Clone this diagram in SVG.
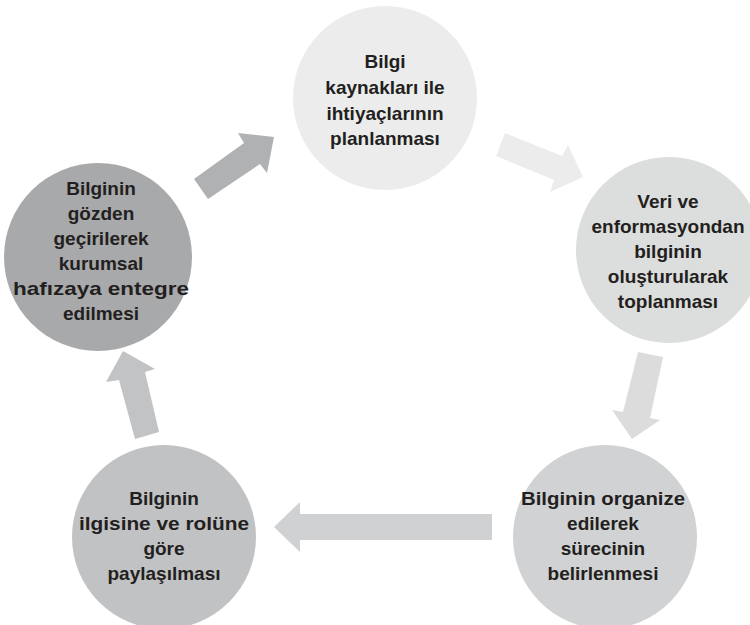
<svg xmlns="http://www.w3.org/2000/svg" width="750" height="625" viewBox="0 0 750 625">
<style>
text{font-family:"Liberation Sans",Arial,sans-serif;font-weight:bold;font-size:19px;fill:#231f20;text-anchor:middle}
</style>
<rect width="750" height="625" fill="#ffffff"/>
<g id="connectors">
<polygon id="a1" fill="#b0b1b3" points="194,179 244,143 238,133 274,137 267,173 260,164 208,199"/>
<polygon id="a2" fill="#ececec" points="505,133 562,156 568,145 583,177 550,192 554,180 496,156"/>
<polygon id="a3" fill="#dcdcdd" points="638,352 663,357 650,418 660,420 632,439 612,410 623,412"/>
<polygon id="a4" fill="#d0d1d3" points="492,514 300,514 300,502 274,527 300,552 300,540 492,540"/>
<polygon id="a5" fill="#c2c3c5" points="123,351 155,369 145,372 159,432 135,439 119,380 106,382"/>
</g>
<g id="n1">
<circle cx="385" cy="98" r="92" fill="#ececec"/>
<text x="385" y="68">Bilgi</text>
<text x="385" y="94">kaynakları ile</text>
<text x="385" y="119.5">ihtiyaçlarının</text>
<text x="385" y="145">planlanması</text>
</g>
<g id="n2">
<circle cx="669" cy="250" r="93" fill="#dcdddd"/>
<text x="668" y="208">Veri ve</text>
<text x="668" y="233">enformasyondan</text>
<text x="668" y="258">bilginin</text>
<text x="668" y="283">oluşturularak</text>
<text x="668" y="308">toplanması</text>
</g>
<g id="n5">
<circle cx="605" cy="537" r="92" fill="#d1d2d3"/>
<text x="603" y="505" textLength="164" lengthAdjust="spacingAndGlyphs">Bilginin organize</text>
<text x="603" y="530">edilerek</text>
<text x="603" y="555">sürecinin</text>
<text x="603" y="580">belirlenmesi</text>
</g>
<g id="n4">
<circle cx="164" cy="537" r="92" fill="#c1c2c4"/>
<text x="164" y="505">Bilginin</text>
<text x="164" y="530" textLength="170" lengthAdjust="spacingAndGlyphs">ilgisine ve rolüne</text>
<text x="164" y="555">göre</text>
<text x="164" y="580">paylaşılması</text>
</g>
<g id="n3">
<circle cx="98" cy="257" r="94" fill="#a8a9ab"/>
<text x="101" y="195">Bilginin</text>
<text x="101" y="220">gözden</text>
<text x="101" y="245">geçirilerek</text>
<text x="101" y="270">kurumsal</text>
<text x="101" y="295" textLength="176" lengthAdjust="spacingAndGlyphs">hafızaya entegre</text>
<text x="101" y="320">edilmesi</text>
</g>
</svg>
